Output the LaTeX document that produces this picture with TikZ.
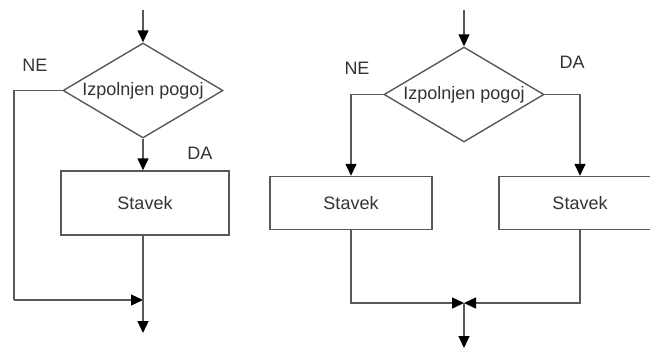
\documentclass[tikz,border=0pt]{standalone}
\usepackage{fontspec}
\setmainfont{Liberation Sans}
\usetikzlibrary{shapes.geometric,arrows.meta}

\tikzset{
    line/.style={line width=1.4pt, black!65},
    arr/.style={line, -{Triangle[length=12pt,width=11pt,black]}},
    cond/.style={diamond, draw=black!65, line width=1.4pt, inner sep=0pt,
        shape aspect=1.7, minimum width=160, minimum height=95},
    stmt/.style={rectangle, draw=black!65, line width=1.4pt, inner sep=0pt},
    lbl/.style={text=black!80}
}

\begin{document}
\begin{tikzpicture}[x=1pt, y=-1pt, font=\fontsize{18}{21}\selectfont, text=black!80]
    \useasboundingbox (0,0) rectangle (650,349);
    \clip (0,0) rectangle (650,349);

    % Left: if without else
    \coordinate (s1) at (143,10);
    \node[cond] (d1) at (143,90.5) {Izpolnjen pogoj};
    \node[stmt, minimum width=168, minimum height=64] (r1) at (145,203) {Stavek};
    \coordinate (c1) at (14,300);
    \coordinate (j1) at (143,300);
    \coordinate (e1) at (143,333);
    \node[lbl] (ne1) at (35,65) {NE};
    \node[lbl] (da1) at (200,153) {DA};

    \draw[arr] (s1) -- (d1.north);
    \draw[arr] (d1.south) -- (d1.south |- r1.north);
    \draw[line] (d1.west) -| (c1);
    \draw[arr] (c1) -- (j1);
    \draw[arr] (r1.south -| j1) -- (e1);

    % Right: if with else
    \coordinate (s2) at (464,10);
    \node[cond] (d2) at (464,94.5) {Izpolnjen pogoj};
    \node[stmt, minimum width=162, minimum height=53] (r2) at (351,203) {Stavek};
    \node[stmt, minimum width=162, minimum height=53] (r3) at (580,203) {Stavek};
    \coordinate (j2) at (464,303);
    \coordinate (e2) at (464,348);
    \node[lbl] (ne2) at (357,68) {NE};
    \node[lbl] (da2) at (572,62) {DA};

    \draw[arr] (s2) -- (d2.north);
    \draw[arr] (d2.west) -| (r2.north);
    \draw[arr] (d2.east) -| (r3.north);
    \draw[arr] (r2.south) |- (j2);
    \draw[arr] (r3.south) |- (j2);
    \draw[arr] (j2) -- (e2);
\end{tikzpicture}
\end{document}
